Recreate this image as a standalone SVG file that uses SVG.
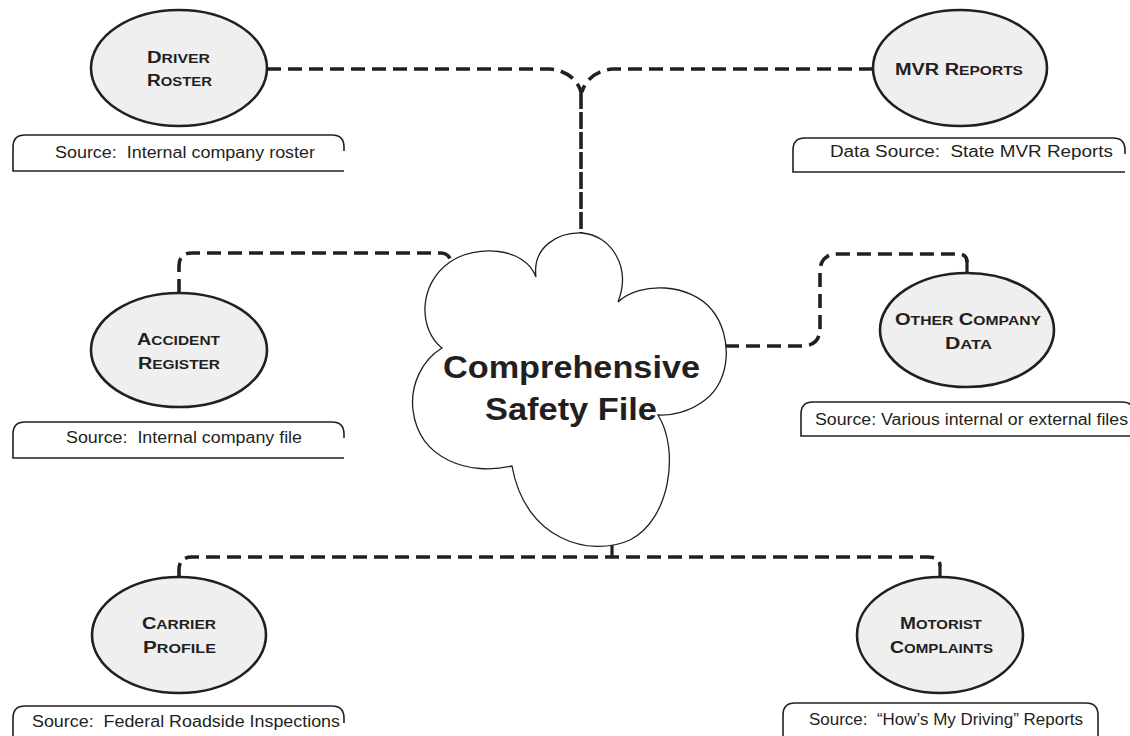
<svg xmlns="http://www.w3.org/2000/svg" width="1130" height="736" viewBox="0 0 1130 736">
<style>
.bg{fill:#ffffff}
.node{fill:#efefef;stroke:#231f20;stroke-width:2.6}
.cloud{fill:#ffffff;stroke:#231f20;stroke-width:1.3}
.box{fill:none;stroke:#231f20;stroke-width:1.6}
.conn{fill:none;stroke:#231f20;stroke-width:3.6;stroke-dasharray:14 7}
.vt{stroke-dasharray:17 3}
.solid{fill:none;stroke:#231f20;stroke-width:3.2}
.lbl{font-family:"Liberation Sans",Arial,Helvetica,sans-serif;font-weight:bold;font-size:16px;fill:#231f20;text-anchor:middle}
.sc{font-size:12.5px}
.src{font-family:"Liberation Sans",Arial,Helvetica,sans-serif;font-size:16px;fill:#231f20}
.title{font-family:"Liberation Sans",Arial,Helvetica,sans-serif;font-weight:bold;font-size:31px;fill:#231f20;text-anchor:middle}
</style>
<rect class="bg" x="0" y="0" width="1130" height="736"/>

<g id="connectors">
  <path class="conn" d="M267,69 H550 C566,70 578,80 581,92"/>
  <path class="conn" d="M873,69 H613 C597,70 585,80 582,92"/>
  <path class="conn vt" d="M581,92 V233"/>
  <path class="conn" d="M179,293 V266 Q179,253 192,253 H440 Q450,253 451,263"/>
  <path class="conn" d="M725,346 H802 Q820,346 820,328 V272 Q820,254 838,254 H958 Q967,254 967,262"/>
  <path class="solid" d="M967,260 V273"/>
  <path class="conn" d="M179,577 V570 Q179,557 192,557 H928 Q940,557 940,566"/>
  <path class="solid" d="M940,565 V577"/>
  <path class="solid" d="M612,545 V557"/>
</g>

<g id="cloud-safety-file">
  <path class="cloud" d="M442,348 C419,330 417,285 450,262 C476,244 525,247 536,277 C532,247 558,232 582,233 C610,235 632,266 618,302 C640,281 690,283 712,310 C733,336 731,381 705,400 C690,412 670,416 658,415 C680,450 670,520 630,540 C590,558 525,540 512,466 C470,476 419,460 413,410 C410,385 422,360 442,348 Z"/>
  <text class="title" x="571.5" y="378" textLength="257" lengthAdjust="spacingAndGlyphs">Comprehensive</text>
  <text class="title" x="571" y="420" textLength="172" lengthAdjust="spacingAndGlyphs">Safety File</text>
</g>

<g id="node-driver-roster">
  <ellipse class="node" cx="179" cy="68" rx="88" ry="58"/>
  <text class="lbl" x="178.5" y="63" textLength="63" lengthAdjust="spacingAndGlyphs">D<tspan class="sc">RIVER</tspan></text>
  <text class="lbl" x="179.5" y="86" textLength="65" lengthAdjust="spacingAndGlyphs">R<tspan class="sc">OSTER</tspan></text>
  <path class="box" d="M344,151 V147 Q344,135 332,135 H25 Q13,135 13,147 V171 H344"/>
  <text class="src" x="55" y="158" textLength="260" lengthAdjust="spacingAndGlyphs" xml:space="preserve">Source:  Internal company roster</text>
</g>

<g id="node-mvr-reports">
  <ellipse class="node" cx="960" cy="68" rx="87" ry="58"/>
  <text class="lbl" x="959" y="75" textLength="128" lengthAdjust="spacingAndGlyphs">MVR R<tspan class="sc">EPORTS</tspan></text>
  <path class="box" d="M1125,154 V150 Q1125,138 1113,138 H805 Q793,138 793,150 V172 H1125"/>
  <text class="src" x="830" y="157" textLength="283" lengthAdjust="spacingAndGlyphs" xml:space="preserve">Data Source:  State MVR Reports</text>
</g>

<g id="node-accident-register">
  <ellipse class="node" cx="179" cy="350" rx="88" ry="57"/>
  <text class="lbl" x="178.5" y="345" textLength="83" lengthAdjust="spacingAndGlyphs">A<tspan class="sc">CCIDENT</tspan></text>
  <text class="lbl" x="179" y="369" textLength="82" lengthAdjust="spacingAndGlyphs">R<tspan class="sc">EGISTER</tspan></text>
  <path class="box" d="M344,438 V434 Q344,422 332,422 H25 Q13,422 13,434 V458 H344"/>
  <text class="src" x="66" y="443" textLength="236" lengthAdjust="spacingAndGlyphs" xml:space="preserve">Source:  Internal company file</text>
</g>

<g id="node-other-company-data">
  <ellipse class="node" cx="967" cy="330" rx="87" ry="57"/>
  <text class="lbl" x="968" y="325" textLength="146" lengthAdjust="spacingAndGlyphs">O<tspan class="sc">THER</tspan> C<tspan class="sc">OMPANY</tspan></text>
  <text class="lbl" x="968.5" y="349" textLength="47" lengthAdjust="spacingAndGlyphs">D<tspan class="sc">ATA</tspan></text>
  <path class="box" d="M1134,418 V414 Q1134,402 1122,402 H813 Q801,402 801,414 V436 H1134"/>
  <text class="src" x="815" y="425" textLength="313" lengthAdjust="spacingAndGlyphs">Source: Various internal or external files</text>
</g>

<g id="node-carrier-profile">
  <ellipse class="node" cx="179" cy="635" rx="87" ry="58"/>
  <text class="lbl" x="179" y="629" textLength="74" lengthAdjust="spacingAndGlyphs">C<tspan class="sc">ARRIER</tspan></text>
  <text class="lbl" x="179.5" y="653" textLength="73" lengthAdjust="spacingAndGlyphs">P<tspan class="sc">ROFILE</tspan></text>
  <path class="box" d="M344,723 V718 Q344,706 332,706 H25 Q13,706 13,718 V745"/>
  <text class="src" x="32" y="727" textLength="308" lengthAdjust="spacingAndGlyphs" xml:space="preserve">Source:  Federal Roadside Inspections</text>
</g>

<g id="node-motorist-complaints">
  <ellipse class="node" cx="940" cy="635" rx="83" ry="58"/>
  <text class="lbl" x="941" y="629" textLength="82" lengthAdjust="spacingAndGlyphs">M<tspan class="sc">OTORIST</tspan></text>
  <text class="lbl" x="941.5" y="653" textLength="103" lengthAdjust="spacingAndGlyphs">C<tspan class="sc">OMPLAINTS</tspan></text>
  <path class="box" d="M1098,745 V715 Q1098,703 1086,703 H795 Q783,703 783,715 V745"/>
  <text class="src" x="809" y="725" textLength="274" lengthAdjust="spacingAndGlyphs" xml:space="preserve">Source:  “How’s My Driving” Reports</text>
</g>
</svg>
